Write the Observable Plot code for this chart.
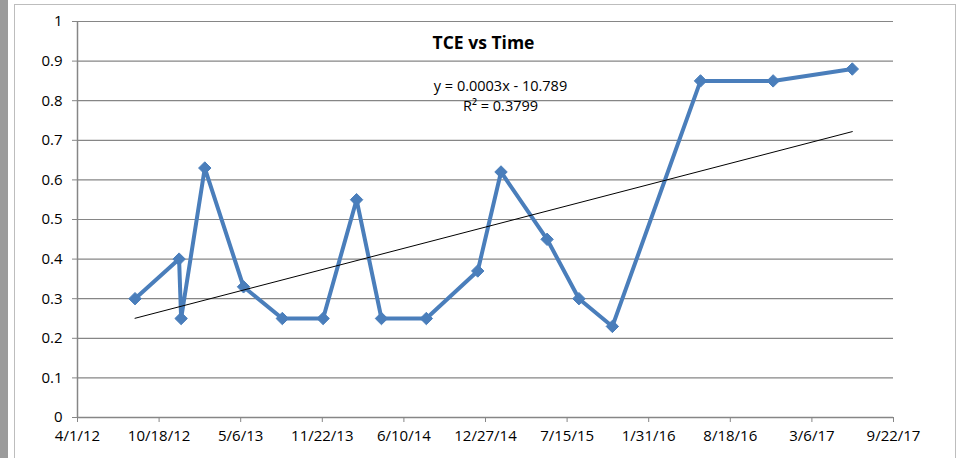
<!DOCTYPE html>
<html>
<head>
<meta charset="utf-8">
<script src="https://cdn.jsdelivr.net/npm/d3@7"></script>
<script src="https://cdn.jsdelivr.net/npm/@observablehq/plot@0.6"></script>
<style>
  html, body { margin: 0; padding: 0; background: #fff; }
  #wrap { position: relative; width: 961px; height: 458px; overflow: hidden; }
  #bar { position: absolute; left: 0; top: 0; width: 8px; height: 458px; background: #9b9b9b; }
  #border { position: absolute; left: 14px; top: 4px; width: 942px; height: 470px; border: 1px solid #bdbdbd; box-sizing: border-box; pointer-events: none; }
  #chart { position: absolute; left: 0; top: 0; }
</style>
</head>
<body>
<div id="wrap">
  <div id="bar"></div>
  <div id="chart"></div>
  <div id="border"></div>
</div>
<script>
const sampleDates = ["2012-08-20","2012-12-06","2012-12-11","2013-02-07","2013-05-13","2013-08-16","2013-11-24","2014-02-14","2014-04-16","2014-08-04","2014-12-08","2015-02-03","2015-05-27","2015-08-13","2015-11-03","2016-06-06","2016-12-01","2017-06-13"];
const tceValues = [0.30,0.40,0.25,0.63,0.33,0.25,0.25,0.55,0.25,0.25,0.37,0.62,0.45,0.30,0.23,0.85,0.85,0.88];
const xTickDates = ["2012-04-01","2012-10-18","2013-05-06","2013-11-22","2014-06-10","2014-12-27","2015-07-15","2016-01-31","2016-08-18","2017-03-06","2017-09-22"];
const yTicks = [0,0.1,0.2,0.3,0.4,0.5,0.6,0.7,0.8,0.9,1];
const titleText = "TCE vs Time";
const equationText = "y = 0.0003x - 10.789";
const r2Text = "R² = 0.3799";

const parse = d3.utcParse("%Y-%m-%d");
const data = sampleDates.map((d, i) => ({date: parse(d), value: tceValues[i]}));
const xTicks = xTickDates.map(parse);
const fmtDate = d3.utcFormat("%-m/%-d/%y");
const gray = "#868686";

const chart = Plot.plot({
  width: 961,
  height: 458,
  marginLeft: 77,
  marginRight: 68,
  marginTop: 21,
  marginBottom: 41,
  style: {fontFamily: "'Open Sans', sans-serif", fontSize: "15px", background: "transparent", overflow: "visible", color: "#000"},
  x: {type: "utc", domain: [xTicks[0], xTicks[xTicks.length - 1]]},
  y: {domain: [0, 1]},
  marks: [
    Plot.gridY(yTicks, {stroke: gray, strokeOpacity: 1, strokeWidth: 1.2}),
    Plot.ruleX([xTicks[0]], {stroke: gray, strokeWidth: 1.5}),
    Plot.ruleY([0], {stroke: gray, strokeWidth: 1.5}),
    Plot.axisY(yTicks, {tickSize: 5, tickPadding: 10, stroke: gray, fill: "#000", tickFormat: d => String(+d.toFixed(1)), label: null}),
    Plot.axisX(xTicks, {tickSize: 5, tickPadding: 8, stroke: gray, fill: "#000", tickFormat: fmtDate, label: null}),
    Plot.line(data, {x: "date", y: "value", stroke: "#4A7EBB", strokeWidth: 4, strokeLinejoin: "miter"}),
    Plot.dot(data, {x: "date", y: "value", symbol: "diamond2", r: 5.6, fill: "#4A7EBB", stroke: "#4A7EBB", strokeWidth: 1}),
    Plot.linearRegressionY(data, {x: "date", y: "value", stroke: "#000", strokeWidth: 1, ci: 0}),
    Plot.text([titleText], {frameAnchor: "top", lineAnchor: "middle", dx: -2, dy: 22, fontWeight: "bold", fontSize: 17.5, fill: "#000"}),
    Plot.text([equationText], {frameAnchor: "top", lineAnchor: "middle", dx: 15, dy: 65, fontSize: 14.5, fill: "#000"}),
    Plot.text([r2Text], {frameAnchor: "top", lineAnchor: "middle", dx: 15, dy: 85, fontSize: 14.5, fill: "#000"})
  ]
});
document.getElementById("chart").appendChild(chart);
</script>
</body>
</html>
